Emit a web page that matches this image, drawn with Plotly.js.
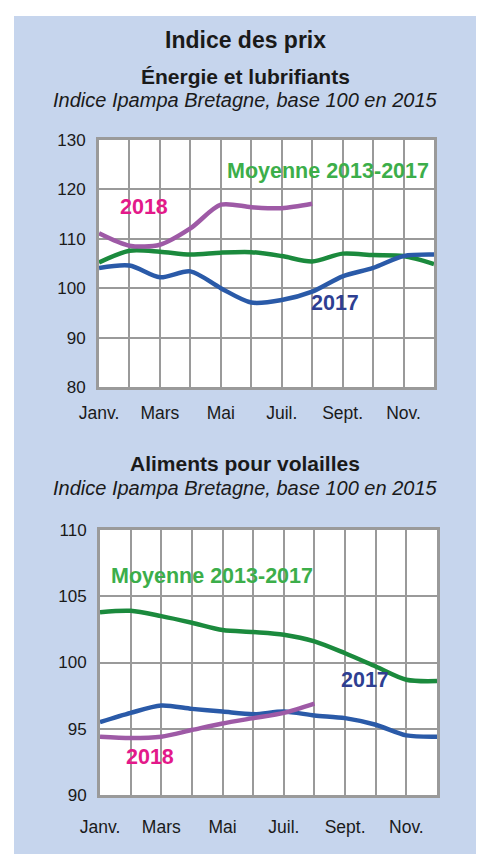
<!DOCTYPE html>
<html>
<head>
<meta charset="utf-8">
<script src="https://cdn.plot.ly/plotly-3.0.1.min.js"></script>
<style>
html,body{margin:0;padding:0;background:#ffffff;}
#chart{width:478px;height:854px;}
</style>
</head>
<body>
<div id="chart"></div>
<script>
// Month index positions (Janv. = 0 ... Déc. = 11)
const months = [0,1,2,3,4,5,6,7,8,9,10,11];
const monthsPartial = [0,1,2,3,4,5,6,7];
const tickLabels = ['Janv.','','Mars','','Mai','','Juil.','','Sept.','','Nov.',''];

// Énergie et lubrifiants
const energie2017 = [104.1,104.6,102.2,103.4,100.0,97.1,97.6,99.3,102.4,104.1,106.5,106.8];
const energieMoy = [105.2,107.6,107.4,106.8,107.2,107.3,106.5,105.4,107.0,106.7,106.5,104.9];
const energie2018 = [111.1,108.6,108.8,112.1,116.9,116.4,116.2,117.1];

// Aliments pour volailles
const aliments2017 = [95.5,96.2,96.75,96.5,96.3,96.1,96.3,96.0,95.8,95.3,94.5,94.4];
const alimentsMoy = [103.8,103.9,103.5,103.0,102.45,102.3,102.1,101.6,100.7,99.7,98.7,98.6];
const aliments2018 = [94.4,94.3,94.4,94.9,95.4,95.8,96.2,96.9];

const W = 478, H = 854;
const FONT = 'Liberation Sans, Arial, sans-serif';
const cBlue = '#2a5aa8', cGreen = '#1b8a3d', cPurple = '#9e5aa6';
const lBlue = '#2e3f92', lGreen = '#3cae4a', lMag = '#e3198a';
const panel = '#c6d5ed';
const grid = '#9a9a9a';

function line(x, y, color, xa, ya) {
  return {x: x, y: y, type: 'scatter', mode: 'lines', xaxis: xa, yaxis: ya,
    line: {color: color, width: 4.5, shape: 'spline', smoothing: 0.8},
    hoverinfo: 'skip', showlegend: false};
}

const data = [
  line(months, energieMoy, cGreen, 'x', 'y'),
  line(months, energie2017, cBlue, 'x', 'y'),
  line(monthsPartial, energie2018, cPurple, 'x', 'y'),
  line(months, alimentsMoy, cGreen, 'x2', 'y2'),
  line(months, aliments2017, cBlue, 'x2', 'y2'),
  line(monthsPartial, aliments2018, cPurple, 'x2', 'y2')
];

function xaxis(dom, anchor, standoff) {
  return {domain: dom, anchor: anchor, range: [0, 11], tickvals: months, ticktext: tickLabels,
    showgrid: true, gridcolor: grid, gridwidth: 2, zeroline: false,
    showline: true, mirror: true, linecolor: grid, linewidth: 3,
    ticks: '', ticklabelstandoff: standoff,
    tickfont: {family: FONT, size: 17.5, color: '#1a1a1a'}, fixedrange: true};
}
function yaxis(dom, anchor, range, dtick) {
  return {domain: dom, anchor: anchor, range: range, dtick: dtick, tick0: range[0],
    showgrid: true, gridcolor: grid, gridwidth: 2, zeroline: false,
    showline: true, mirror: true, linecolor: grid, linewidth: 3,
    ticks: '', ticklabelstandoff: 7,
    tickfont: {family: FONT, size: 17, color: '#1a1a1a'}, fixedrange: true};
}

function px(x) { return x / W; }
function py(y) { return 1 - y / H; }

function txt(x, y, text, size, color, bold, italic) {
  return {xref: 'paper', yref: 'paper', x: px(x), y: py(y), text: bold ? '<b>' + text + '</b>' : (italic ? '<i>' + text + '</i>' : text),
    showarrow: false, xanchor: 'center', yanchor: 'middle',
    font: {family: FONT, size: size, color: color}};
}
function lab(x, y, text, color, xa, ya) {
  return {xref: xa, yref: ya, x: x, y: y, text: '<b>' + text + '</b>', showarrow: false,
    xanchor: 'center', yanchor: 'middle', font: {family: FONT, size: 21.5, color: color}};
}

const layout = {
  width: W, height: H, autosize: false,
  margin: {l: 0, r: 0, t: 0, b: 0},
  paper_bgcolor: panel, plot_bgcolor: '#ffffff',
  showlegend: false,
  xaxis: xaxis([px(99), px(434)], 'y', 8),
  yaxis: yaxis([py(387), py(140)], 'x', [80, 130], 10),
  xaxis2: xaxis([px(100), px(437)], 'y2', 14),
  yaxis2: yaxis([py(795), py(530)], 'x2', [90, 110], 5),
  shapes: [
    {type: 'rect', xref: 'paper', yref: 'paper', x0: 0, x1: px(14), y0: 0, y1: 1, fillcolor: '#ffffff', line: {width: 0}, layer: 'below'},
    {type: 'rect', xref: 'paper', yref: 'paper', x0: 0, x1: 1, y0: py(16), y1: 1, fillcolor: '#ffffff', line: {width: 0}, layer: 'below'},
    {type: 'rect', xref: 'paper', yref: 'paper', x0: px(476), x1: 1, y0: 0, y1: 1, fillcolor: '#ffffff', line: {width: 0}, layer: 'below'}
  ],
  annotations: [
    txt(245, 40, 'Indice des prix', 23, '#1a1a1a', true),
    txt(245, 77, 'Énergie et lubrifiants', 21, '#1a1a1a', true),
    txt(245, 100, 'Indice Ipampa Bretagne, base 100 en 2015', 20, '#1a1a1a', false, true),
    txt(245, 463, 'Aliments pour volailles', 21, '#1a1a1a', true),
    txt(245, 488, 'Indice Ipampa Bretagne, base 100 en 2015', 20, '#1a1a1a', false, true),
    lab(1.49, 116.4, '2018', lMag, 'x', 'y'),
    lab(7.52, 123.7, 'Moyenne 2013-2017', lGreen, 'x', 'y'),
    lab(7.75, 97.1, '2017', lBlue, 'x', 'y'),
    lab(3.65, 106.5, 'Moyenne 2013-2017', lGreen, 'x2', 'y2'),
    lab(8.65, 98.7, '2017', lBlue, 'x2', 'y2'),
    lab(1.63, 92.9, '2018', lMag, 'x2', 'y2')
  ]
};

Plotly.newPlot('chart', data, layout, {staticPlot: true, displayModeBar: false});
</script>
</body>
</html>
